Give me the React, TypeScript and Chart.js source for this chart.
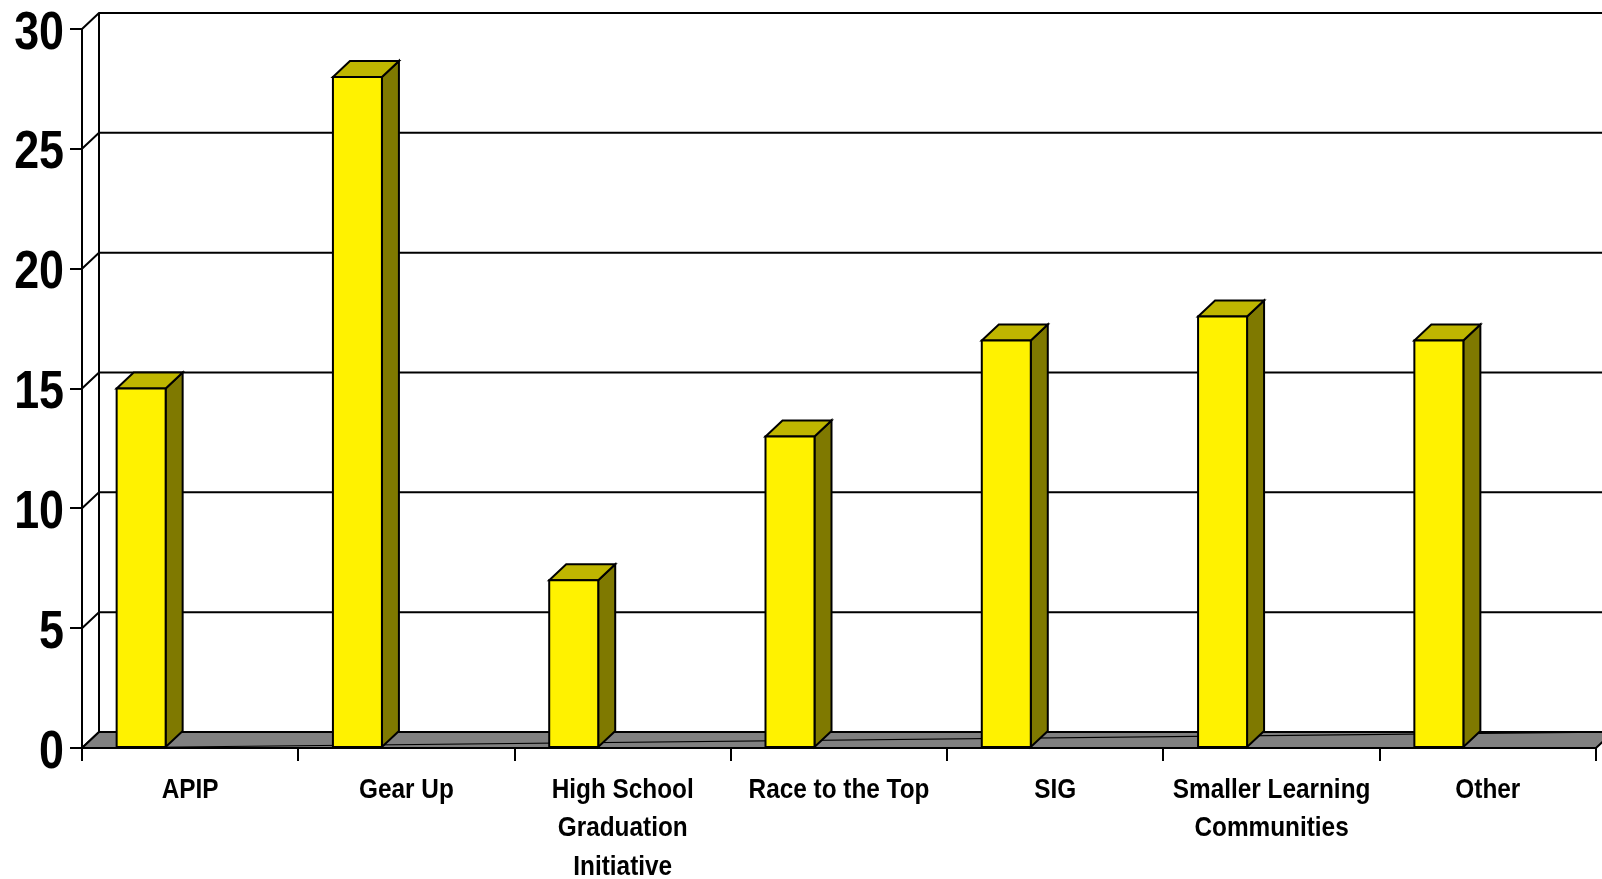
import { useEffect, useRef } from 'react';
import { Chart, registerables } from 'chart.js';

Chart.register(...registerables);

const categories: (string | string[])[] = [
  'APIP',
  'Gear Up',
  ['High School', 'Graduation', 'Initiative'],
  'Race to the Top',
  'SIG',
  ['Smaller Learning', 'Communities'],
  'Other',
];
const values: number[] = [15, 28, 7, 13, 17, 18, 17];
const yTickValues: number[] = [0, 5, 10, 15, 20, 25, 30];

const FONT = '"Liberation Sans", Arial, sans-serif';
const DX = 17;
const DY = 16;
const BAR_SHIFT = -49;
const BAR_W = 49;
const FRONT = '#FFF200';
const TOP = '#BFB600';
const SIDE = '#7F7900';

const threeD = {
  id: 'threeD',
  beforeDatasetsDraw(chart: any) {
    const { ctx, chartArea } = chart;
    const y = chart.scales.y;
    const L = chartArea.left;
    const R = chartArea.right;
    const B = y.getPixelForValue(0);
    const farRight = chart.width + DX + 20;
    ctx.save();
    ctx.strokeStyle = '#000';
    ctx.lineWidth = 2;
    ctx.lineJoin = 'miter';
    for (const v of yTickValues) {
      const yf = y.getPixelForValue(v);
      ctx.beginPath();
      ctx.moveTo(L, yf);
      ctx.lineTo(L + DX, yf - DY);
      ctx.lineTo(farRight, yf - DY);
      ctx.stroke();
    }
    ctx.beginPath();
    ctx.moveTo(L + DX, y.getPixelForValue(yTickValues[yTickValues.length - 1]) - DY);
    ctx.lineTo(L + DX, B - DY);
    ctx.stroke();
    // floor
    ctx.beginPath();
    ctx.moveTo(L, B);
    ctx.lineTo(R, B);
    ctx.lineTo(R + DX, B - DY);
    ctx.lineTo(L + DX, B - DY);
    ctx.closePath();
    ctx.fillStyle = '#808080';
    ctx.fill();
    ctx.stroke();
    ctx.lineWidth = 1.2;
    ctx.beginPath();
    ctx.moveTo(L, B);
    ctx.lineTo(R + DX, B - DY);
    ctx.stroke();
    ctx.restore();
  },
  afterDatasetsDraw(chart: any) {
    const { ctx } = chart;
    const meta = chart.getDatasetMeta(0);
    ctx.save();
    ctx.strokeStyle = '#000';
    ctx.lineWidth = 2;
    ctx.lineJoin = 'miter';
    meta.data.forEach((el: any) => {
      const x0 = el.x + BAR_SHIFT - BAR_W / 2;
      const x1 = x0 + BAR_W;
      const yt = el.y;
      const yb = el.base;
      ctx.beginPath();
      ctx.moveTo(x1, yt);
      ctx.lineTo(x1 + DX, yt - DY);
      ctx.lineTo(x1 + DX, yb - DY);
      ctx.lineTo(x1, yb);
      ctx.closePath();
      ctx.fillStyle = SIDE;
      ctx.fill();
      ctx.stroke();
      ctx.beginPath();
      ctx.moveTo(x0, yt);
      ctx.lineTo(x1, yt);
      ctx.lineTo(x1 + DX, yt - DY);
      ctx.lineTo(x0 + DX, yt - DY);
      ctx.closePath();
      ctx.fillStyle = TOP;
      ctx.fill();
      ctx.stroke();
      ctx.beginPath();
      ctx.rect(x0, yt, BAR_W, yb - yt);
      ctx.fillStyle = FRONT;
      ctx.fill();
      ctx.stroke();
    });
    ctx.restore();
  },
  afterDraw(chart: any) {
    const { ctx, chartArea } = chart;
    const x = chart.scales.x;
    const y = chart.scales.y;
    ctx.save();
    ctx.fillStyle = '#000';
    // y tick labels (narrow bold, drawn with horizontal compression)
    ctx.font = `bold 54px ${FONT}`;
    ctx.textAlign = 'right';
    ctx.textBaseline = 'alphabetic';
    for (const v of yTickValues) {
      const py = y.getPixelForValue(v);
      ctx.save();
      ctx.translate(chartArea.left - 18, py + 19.5);
      ctx.scale(0.83, 1);
      ctx.fillText(String(v), 0, 0);
      ctx.restore();
    }
    // x tick labels
    ctx.font = `bold 28px ${FONT}`;
    ctx.textAlign = 'center';
    const firstBaseline = chartArea.bottom + 49.5;
    const lineH = 38.5;
    categories.forEach((lab, i) => {
      const lines = Array.isArray(lab) ? lab : [lab];
      const px = x.getPixelForValue(i);
      lines.forEach((ln, j) => {
        ctx.save();
        ctx.translate(px, firstBaseline + j * lineH);
        ctx.scale(0.87, 1);
        ctx.fillText(ln, 0, 0);
        ctx.restore();
      });
    });
    ctx.restore();
  },
};

export default function App() {
  const ref = useRef<HTMLCanvasElement | null>(null);
  useEffect(() => {
    if (!ref.current) return;
    const chart = new Chart(ref.current, {
      type: 'bar',
      data: {
        labels: categories as any,
        datasets: [
          {
            data: values,
            backgroundColor: 'rgba(0,0,0,0)',
            borderWidth: 0,
            barThickness: BAR_W,
          },
        ],
      },
      options: {
        responsive: false,
        animation: false,
        events: [],
        layout: { padding: { top: 29, right: 6, left: 0, bottom: 0 } },
        plugins: { legend: { display: false }, tooltip: { enabled: false } },
        scales: {
          x: {
            offset: true,
            grid: {
              offset: true,
              drawOnChartArea: false,
              drawTicks: true,
              tickLength: 13,
              color: '#000',
              lineWidth: 2,
            },
            border: { display: true, color: '#000', width: 2 },
            ticks: { display: false, autoSkip: false, maxRotation: 0 },
            afterFit: (s: any) => {
              s.height = 131;
              s.paddingLeft = 0;
              s.paddingRight = 0;
            },
          },
          y: {
            min: 0,
            max: 30,
            ticks: { display: false, stepSize: 5 },
            grid: {
              drawOnChartArea: false,
              drawTicks: true,
              tickLength: 12,
              color: '#000',
              lineWidth: 2,
            },
            border: { display: true, color: '#000', width: 2 },
            afterFit: (s: any) => {
              s.width = 82;
              s.paddingTop = 0;
              s.paddingBottom = 0;
            },
          },
        },
      },
      plugins: [threeD],
    });
    return () => chart.destroy();
  }, []);
  return (
    <div style={{ position: 'absolute', left: 0, top: 0, width: 1602, height: 879, background: '#fff' }}>
      <canvas ref={ref} width={1602} height={879} style={{ display: 'block' }} />
    </div>
  );
}
